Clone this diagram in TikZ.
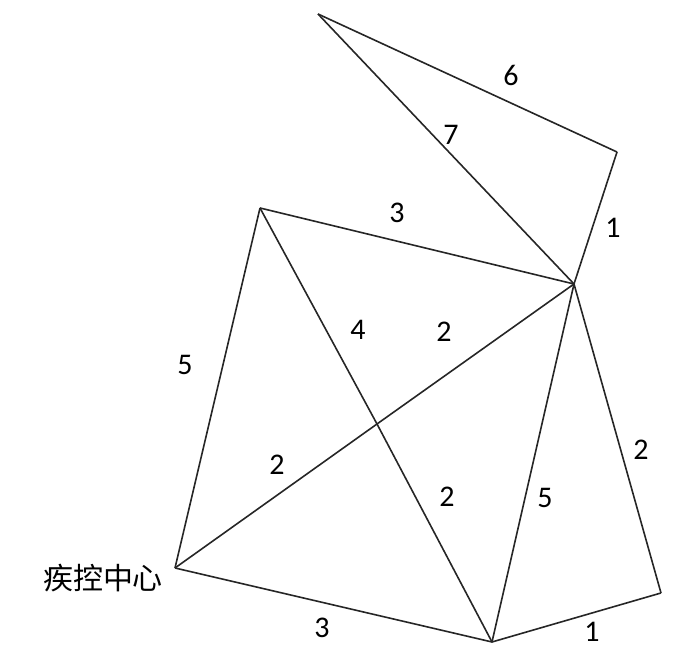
\documentclass[tikz,border=0pt]{standalone}
\usepackage{fontspec}
\setmainfont{Carlito}
\newfontfamily\cjk{Noto Sans CJK SC}
\begin{document}
\begin{tikzpicture}[x=0.5pt,y=-0.5pt,
  edge/.style={draw=black!85,line width=0.8pt,line join=round},
  lbl/.style={font=\fontsize{15}{17}\selectfont,inner sep=0pt}]
\useasboundingbox (0,0) rectangle (692,656);
\coordinate (A) at (318,14);
\coordinate (B) at (617,152);
\coordinate (C) at (574,284);
\coordinate (D) at (260,208);
\coordinate (E) at (175,568);
\coordinate (F) at (492,642);
\coordinate (G) at (661,593);
\coordinate (X) at (377,424);
\node[font=\cjk\fontsize{15}{17}\selectfont,inner sep=0pt] (elab) at (103,578) {疾控中心};
\draw[edge] (A) -- (B);
\draw[edge] (A) -- (C);
\draw[edge] (B) -- (C);
\draw[edge] (D) -- (C);
\draw[edge] (D) -- (E);
\draw[edge] (D) -- (X) -- (F);
\draw[edge] (E) -- (X) -- (C);
\draw[edge] (E) -- (F);
\draw[edge] (F) -- (C);
\draw[edge] (C) -- (G);
\draw[edge] (F) -- (G);
\node[lbl] (l1) at (511,75) {6};
\node[lbl] (l2) at (451,135) {7};
\node[lbl] (l3) at (613,228) {1};
\node[lbl] (l4) at (397,213) {3};
\node[lbl] (l5) at (185,365) {5};
\node[lbl] (l6) at (358,330) {4};
\node[lbl] (l7) at (444,332) {2};
\node[lbl] (l8) at (277,465) {2};
\node[lbl] (l9) at (447,497) {2};
\node[lbl] (l10) at (545,498) {5};
\node[lbl] (l11) at (641,450) {2};
\node[lbl] (l12) at (322,628) {3};
\node[lbl] (l13) at (592,632) {1};
\end{tikzpicture}
\end{document}
